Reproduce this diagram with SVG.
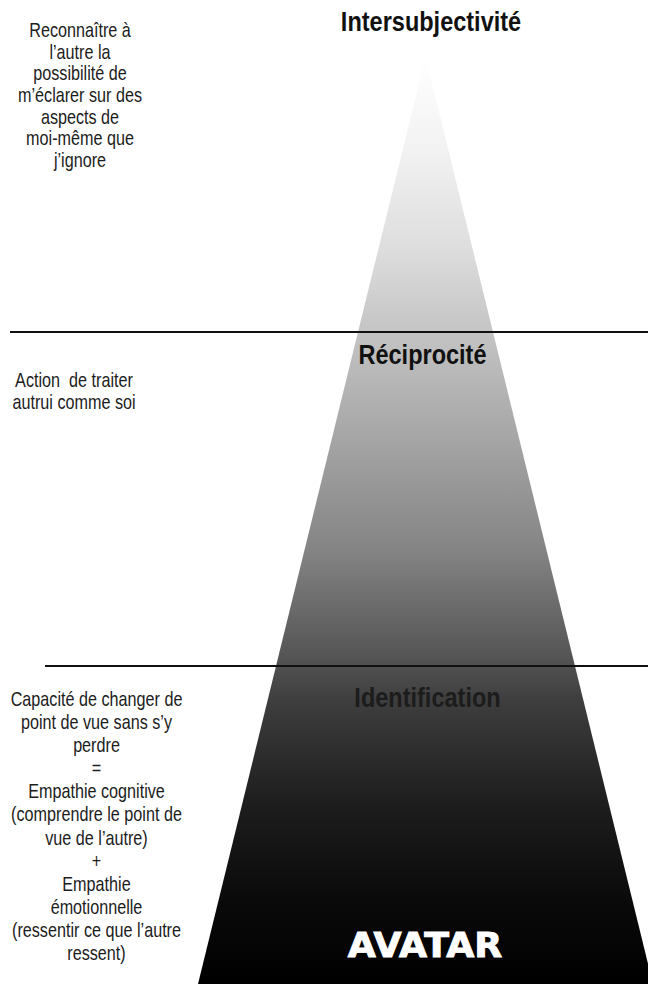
<svg xmlns="http://www.w3.org/2000/svg" width="648" height="984" viewBox="0 0 648 984">
  <style>
    .body { font-family: "Liberation Sans", Arial, sans-serif; font-size: 19.5px; fill: #1c1c1c; text-anchor: middle; }
    .title { font-family: "Liberation Sans", Arial, sans-serif; font-size: 28px; font-weight: bold; fill: #111; text-anchor: middle; }
    .avatar { font-family: "DejaVu Sans", "Liberation Sans", sans-serif; font-size: 33px; font-weight: bold; fill: #ffffff; stroke: #ffffff; stroke-width: 0.9; text-anchor: middle; }
    .sep { stroke: #111; stroke-width: 2; }
  </style>
  <defs>
    <linearGradient id="pyr" gradientUnits="userSpaceOnUse" x1="0" y1="57" x2="0" y2="984">
      <stop offset="0" stop-color="#ffffff"/>
      <stop offset="0.100" stop-color="#f2f2f2"/>
      <stop offset="0.208" stop-color="#dddddd"/>
      <stop offset="0.297" stop-color="#c4c4c4"/>
      <stop offset="0.402" stop-color="#a8a8a8"/>
      <stop offset="0.532" stop-color="#848484"/>
      <stop offset="0.629" stop-color="#5c5c5c"/>
      <stop offset="0.657" stop-color="#505050"/>
      <stop offset="0.694" stop-color="#3e3e3e"/>
      <stop offset="0.802" stop-color="#1e1e1e"/>
      <stop offset="0.909" stop-color="#0a0a0a"/>
      <stop offset="1" stop-color="#000000"/>
    </linearGradient>
  </defs>
  <rect width="648" height="984" fill="#ffffff"/>

  <g id="pyramid">
    <polygon points="425.5,57 653,984 198,984" fill="url(#pyr)"/>
  </g>

  <g id="connectors">
    <line class="sep" x1="10" y1="332" x2="648" y2="332"/>
    <line class="sep" x1="45" y1="666" x2="648" y2="666"/>
  </g>

  <g id="intersubjectivite">
    <text class="title" transform="translate(431,31) scale(0.84,1)" x="0" y="0">Intersubjectivité</text>
  </g>
  <g id="desc-intersubjectivite">
    <g transform="translate(80,0) scale(0.83,1)">
      <text class="body" x="0" y="37">Reconnaître à</text>
      <text class="body" x="0" y="58.7">l’autre la</text>
      <text class="body" x="0" y="80.4">possibilité de</text>
      <text class="body" x="0" y="102.1">m’éclarer sur des</text>
      <text class="body" x="0" y="123.8">aspects de</text>
      <text class="body" x="0" y="145.5">moi-même que</text>
      <text class="body" x="0" y="167.2">j’ignore</text>
    </g>
  </g>

  <g id="reciprocite">
    <text class="title" transform="translate(422.5,364) scale(0.84,1)" x="0" y="0">Réciprocité</text>
  </g>
  <g id="desc-reciprocite">
    <g transform="translate(74,0) scale(0.83,1)">
      <text class="body" x="0" y="387" xml:space="preserve">Action  de traiter</text>
      <text class="body" x="0" y="409">autrui comme soi</text>
    </g>
  </g>

  <g id="identification">
    <text class="title" transform="translate(427.5,707) scale(0.84,1)" x="0" y="0" style="fill:#1c1c1c">Identification</text>
  </g>
  <g id="desc-identification">
    <g transform="translate(96.5,0) scale(0.83,1)">
      <text class="body" x="0" y="706">Capacité de changer de</text>
      <text class="body" x="0" y="729.1">point de vue sans s’y</text>
      <text class="body" x="0" y="752.2">perdre</text>
      <text class="body" x="0" y="775.3">=</text>
      <text class="body" x="0" y="798.4">Empathie cognitive</text>
      <text class="body" x="0" y="821.5">(comprendre le point de</text>
      <text class="body" x="0" y="844.6">vue de l’autre)</text>
      <text class="body" x="0" y="867.7">+</text>
      <text class="body" x="0" y="890.8">Empathie</text>
      <text class="body" x="0" y="913.9">émotionnelle</text>
      <text class="body" x="0" y="937">(ressentir ce que l’autre</text>
      <text class="body" x="0" y="960.1">ressent)</text>
    </g>
  </g>

  <g id="avatar">
    <text class="avatar" transform="translate(425,957) scale(1.1,1)" x="0" y="0">AVATAR</text>
  </g>
</svg>
